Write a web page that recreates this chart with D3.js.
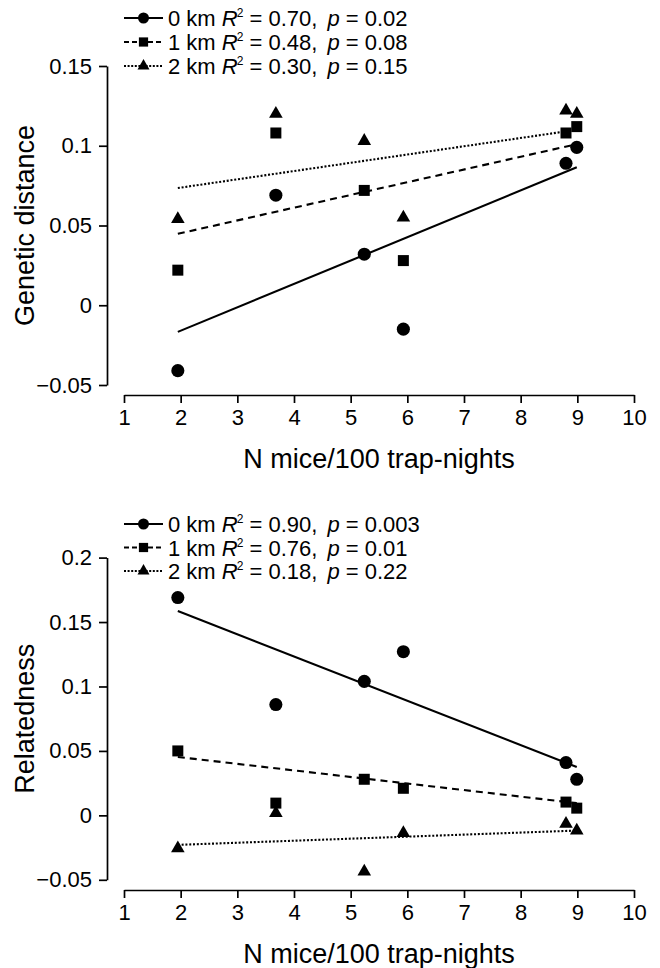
<!DOCTYPE html>
<html>
<head>
<meta charset="utf-8">
<script src="https://cdn.jsdelivr.net/npm/d3@7"></script>
<style>
  body { margin: 0; background: #fff; }
  svg { display: block; font-family: "Liberation Sans", Arial, Helvetica, sans-serif; }
</style>
</head>
<body>
<svg id="chart" width="660" height="968"></svg>
<script>
// x values shared by both panels (N mice / 100 trap-nights)
const mice = [1.95, 3.68, 5.24, 5.93, 8.80, 8.99];
const seriesNames = ['0 km', '1 km', '2 km'];
const xTicks = [1, 2, 3, 4, 5, 6, 7, 8, 9, 10];

// Top panel: genetic distance
const distance0km = [-0.041, 0.069, 0.032, -0.015, 0.089, 0.099];
const distance1km = [0.022, 0.108, 0.072, 0.028, 0.108, 0.112];
const distance2km = [0.054, 0.120, 0.103, 0.055, 0.122, 0.120];
const distanceFitStart = [-0.0167, 0.0448, 0.0735];
const distanceFitEnd = [0.0865, 0.101, 0.110];
const distanceR2 = ['0.70', '0.48', '0.30'];
const distanceP = ['0.02', '0.08', '0.15'];
const distanceTicks = [-0.05, 0, 0.05, 0.1, 0.15];

// Bottom panel: relatedness
const related0km = [0.169, 0.086, 0.104, 0.127, 0.041, 0.028];
const related1km = [0.050, 0.0095, 0.028, 0.021, 0.0103, 0.0056];
const related2km = [-0.0255, 0.0017, -0.0437, -0.0138, -0.0066, -0.0118];
const relatedFitStart = [0.1585, 0.0453, -0.0229];
const relatedFitEnd = [0.0375, 0.0095, -0.0118];
const relatedR2 = ['0.90', '0.76', '0.18'];
const relatedP = ['0.003', '0.01', '0.22'];
const relatedTicks = [-0.05, 0, 0.05, 0.1, 0.15, 0.2];

const SHAPES = [d3.symbolCircle, d3.symbolSquare, d3.symbolTriangle];
const SIZES = [135, 121, 80];
const LEGEND_SIZES = [95, 85, 62];
const DASHES = [null, '7,5', '2,1.8'];
const LEGEND_DASHES = [null, '5,3', '2,1.6'];

const svg = d3.select('#chart');
const x = d3.scaleLinear().domain([1, 10]).range([124, 634]);
const fmt = d3.format('~g');

function drawPanel(p) {
  const y = d3.scaleLinear().domain(p.yDomain).range(p.yRange);
  const g = svg.append('g');

  // axes
  const xAxis = g.append('g')
    .attr('transform', `translate(0,${p.xAxisY})`)
    .call(d3.axisBottom(x).tickValues(xTicks).tickSize(8).tickSizeOuter(0).tickPadding(6));
  const yAxis = g.append('g')
    .attr('transform', 'translate(107,0)')
    .call(d3.axisLeft(y).tickValues(p.yTicks).tickFormat(fmt).tickSize(8).tickSizeOuter(0).tickPadding(7));
  [xAxis, yAxis].forEach((a) => {
    a.selectAll('path, line').attr('stroke', '#000').attr('stroke-width', 1.7);
    a.selectAll('text').attr('fill', '#000').style('font-size', '22px');
  });

  g.append('text')
    .attr('x', (x.range()[0] + x.range()[1]) / 2)
    .attr('y', p.xAxisY + 73)
    .attr('text-anchor', 'middle')
    .style('font-size', '27px')
    .text('N mice/100 trap-nights');

  const mid = (p.yRange[0] + p.yRange[1]) / 2;
  g.append('text')
    .attr('transform', `translate(34,${mid}) rotate(-90)`)
    .attr('text-anchor', 'middle')
    .style('font-size', '27px')
    .text(p.yTitle);

  // fit lines
  const [x0, x1] = d3.extent(mice);
  const line = d3.line().x((d) => x(d[0])).y((d) => y(d[1]));
  p.series.forEach((vals, i) => {
    g.append('path')
      .attr('d', line([[x0, p.fitStart[i]], [x1, p.fitEnd[i]]]))
      .attr('fill', 'none')
      .attr('stroke', '#000')
      .attr('stroke-width', 2.1)
      .attr('stroke-dasharray', DASHES[i]);
  });

  // points
  p.series.forEach((vals, i) => {
    g.append('g').selectAll('path')
      .data(vals.map((v, j) => [mice[j], v]))
      .join('path')
      .attr('transform', (d) => `translate(${x(d[0])},${y(d[1])})`)
      .attr('d', d3.symbol(SHAPES[i], SIZES[i]))
      .attr('fill', '#000');
  });

  // legend
  const leg = g.append('g');
  seriesNames.forEach((name, i) => {
    const ly = p.legendY[i];
    leg.append('line')
      .attr('x1', 124).attr('x2', 163).attr('y1', ly).attr('y2', ly)
      .attr('stroke', '#000').attr('stroke-width', 2)
      .attr('stroke-dasharray', LEGEND_DASHES[i]);
    leg.append('path')
      .attr('transform', `translate(143.5,${ly})`)
      .attr('d', d3.symbol(SHAPES[i], LEGEND_SIZES[i]))
      .attr('fill', '#000');
    const t = leg.append('text')
      .attr('x', 168).attr('y', ly + 8)
      .style('font-size', '22px');
    t.append('tspan').text(`${name} `);
    t.append('tspan').style('font-style', 'italic').text('R');
    t.append('tspan').style('font-size', '12px').attr('dx', -1).attr('dy', -9).text('2');
    t.append('tspan').attr('dy', 9).text(` = ${p.r2[i]},`);
    t.append('tspan').attr('dx', 10).style('font-style', 'italic').text('p');
    t.append('tspan').text(` = ${p.p[i]}`);
  });
}

drawPanel({
  series: [distance0km, distance1km, distance2km],
  fitStart: distanceFitStart,
  fitEnd: distanceFitEnd,
  r2: distanceR2,
  p: distanceP,
  yTicks: distanceTicks,
  yDomain: [-0.05, 0.15],
  yRange: [385, 66],
  xAxisY: 395,
  yTitle: 'Genetic distance',
  legendY: [18, 42, 66]
});

drawPanel({
  series: [related0km, related1km, related2km],
  fitStart: relatedFitStart,
  fitEnd: relatedFitEnd,
  r2: relatedR2,
  p: relatedP,
  yTicks: relatedTicks,
  yDomain: [-0.05, 0.2],
  yRange: [879.8, 557.6],
  xAxisY: 890,
  yTitle: 'Relatedness',
  legendY: [524, 547.5, 571]
});
</script>
</body>
</html>
